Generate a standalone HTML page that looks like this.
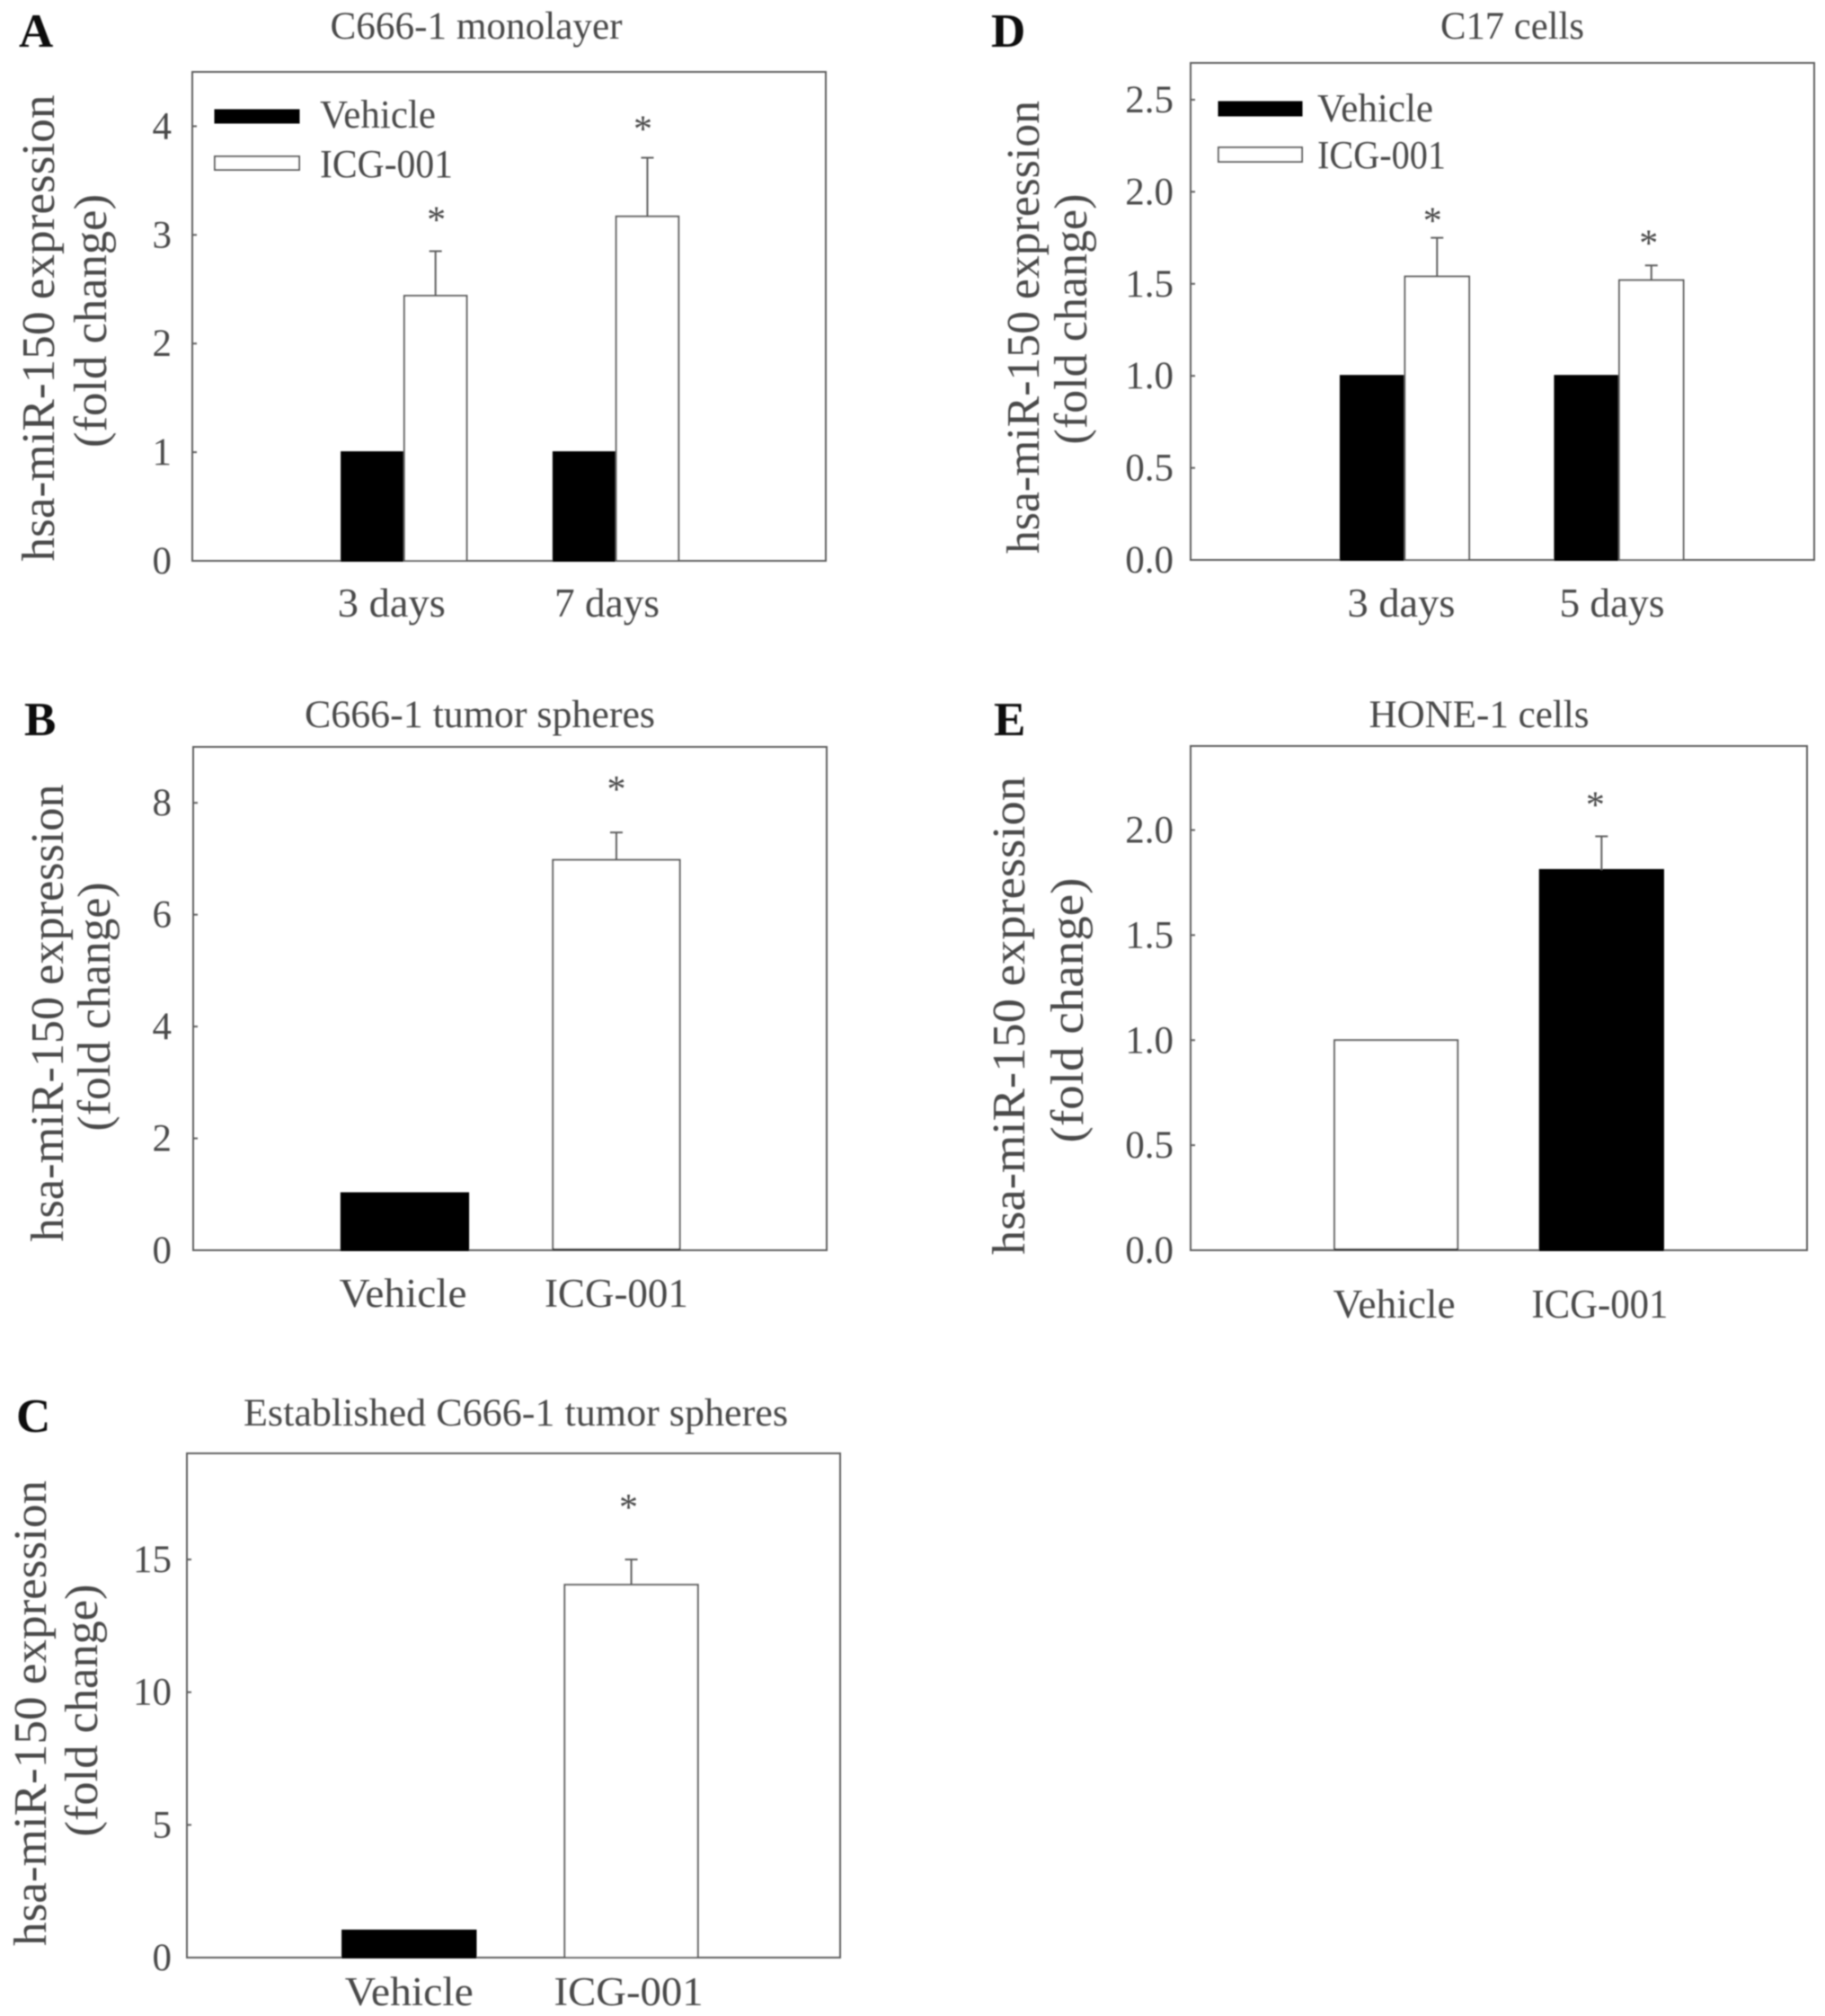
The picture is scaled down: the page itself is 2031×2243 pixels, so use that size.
<!DOCTYPE html>
<html lang="en">
<head>
<meta charset="utf-8">
<title>hsa-miR-150 expression after ICG-001 treatment</title>
<style>
html,body{margin:0;padding:0;background:#fff;}
svg{display:block;}
text{font-family:"Liberation Serif","Times New Roman",serif;fill:#484848;}
</style>
</head>
<body>
<svg id="figure" xmlns="http://www.w3.org/2000/svg" width="2031" height="2243" viewBox="0 0 2031 2243">
  <defs><filter id="soft" x="-5%" y="-5%" width="110%" height="110%"><feGaussianBlur stdDeviation="0.8"/></filter></defs>
  <g id="root" filter="url(#soft)"></g>
</svg>
<script>
// Panel A: C666-1 monolayer
const aCategories = ["3 days", "7 days"];
const aVehicle = [1, 1];
const aIcg = [2.44, 3.17];
const aIcgUpper = [2.85, 3.71];
const aTicks = [0, 1, 2, 3, 4];
// Panel B: C666-1 tumor spheres
const bCategories = ["Vehicle", "ICG-001"];
const bValues = [1.02, 6.98];
const bUpper = [null, 7.47];
const bTicks = [0, 2, 4, 6, 8];
// Panel C: Established C666-1 tumor spheres
const cCategories = ["Vehicle", "ICG-001"];
const cValues = [1.02, 14.05];
const cUpper = [null, 15.0];
const cTicks = [0, 5, 10, 15];
// Panel D: C17 cells
const dCategories = ["3 days", "5 days"];
const dVehicle = [1, 1];
const dIcg = [1.54, 1.52];
const dIcgUpper = [1.75, 1.6];
const dTicks = [0, 0.5, 1, 1.5, 2, 2.5];
// Panel E: HONE-1 cells
const eCategories = ["Vehicle", "ICG-001"];
const eValues = [1, 1.81];
const eUpper = [null, 1.97];
const eTicks = [0, 0.5, 1, 1.5, 2];

const INK = "#5e5e5e";
const root = document.getElementById("root");
const NS = "http://www.w3.org/2000/svg";

function make(parent, tag, props) {
  const node = document.createElementNS(NS, tag);
  for (const k in props) node.setAttribute(k, props[k]);
  parent.appendChild(node);
  return node;
}

function drawLabel(parent, name, content, x, y, size, len, opts) {
  const o = opts || {};
  const t = make(parent, "text", {x: x, y: y, "font-size": size, "text-anchor": o.anchor || "middle"});
  if (len) {
    t.setAttribute("textLength", len);
    t.setAttribute("lengthAdjust", "spacingAndGlyphs");
  }
  if (o.rotate) t.setAttribute("transform", "rotate(-90 " + x + " " + y + ")");
  if (o.bold) { t.setAttribute("font-weight", "bold"); t.style.fill = "#111"; }
  t.textContent = content;
  
  
  return t;
}

function drawPanel(cfg) {
  const g = make(root, "g", {});
  
  

  const yScale = function (v) { return cfg.bottom - (v / cfg.yMax) * (cfg.bottom - cfg.top); };
  const xScale = function (v) { return cfg.left + (v / cfg.xMax) * (cfg.right - cfg.left); };
  const unit = (cfg.right - cfg.left) / cfg.xMax;

  const frame = make(g, "rect", {x: cfg.left, y: cfg.top, width: cfg.right - cfg.left, height: cfg.bottom - cfg.top, fill: "none", stroke: INK, "stroke-width": 2});
  
  

  cfg.ticks.forEach(function (v) {
    const y = yScale(v);
    const tick = make(g, "line", {x1: cfg.left, x2: cfg.left + 5, y1: y, y2: y, stroke: INK, "stroke-width": 2});
    
    
    drawLabel(g, "y-tick-label", v.toFixed(cfg.decimals), cfg.tickRight, y + 14, 43, null, {anchor: "end"});
  });

  cfg.series.forEach(function (s) {
    s.values.forEach(function (v, i) {
      const center = xScale(i + 1) + s.offset * unit;
      const half = cfg.barWidth * unit / 2;
      const y = yScale(v);
      const fill = Array.isArray(s.fill) ? s.fill[i] : s.fill;
      const solid = fill === "#000";
      const bar = make(g, "rect", {x: center - half, y: y, width: half * 2, height: cfg.bottom - y, fill: fill, stroke: solid ? "#000" : INK, "stroke-width": 2});
      
      
      if (!solid && cfg.darkBase) {
        const base = make(g, "line", {x1: center - half, x2: center + half, y1: cfg.bottom - 1, y2: cfg.bottom - 1, stroke: "#222", "stroke-width": 2});
        
        
      }
      const upper = s.upper ? s.upper[i] : null;
      if (upper !== null) {
        const yu = yScale(upper);
        const stem = make(g, "line", {x1: center, x2: center, y1: y, y2: yu, stroke: INK, "stroke-width": 2});
        
        
        const cap = make(g, "line", {x1: center - 7, x2: center + 7, y1: yu, y2: yu, stroke: INK, "stroke-width": 2});
        
        
        const nudge = cfg.starNudge[i];
        drawLabel(g, "significance-star", "*", center - 4 + nudge[0], yu - 18 + nudge[1], 42);
      }
    });
  });

  cfg.categories.forEach(function (c, i) {
    drawLabel(g, "x-category-label", c, xScale(i + 1) + cfg.labelDx[i], cfg.labelY, 45, cfg.labelLens[i]);
  });

  drawLabel(g, "panel-title", cfg.title, cfg.titleX, cfg.titleY, 43, cfg.titleLen);
  drawLabel(g, "panel-letter", cfg.letter, cfg.letterX, cfg.letterY, 53, null, {anchor: "start", bold: true});
  drawLabel(g, "y-axis-title", "hsa-miR-150 expression", cfg.y1X, cfg.y1C, 52, cfg.y1Len, {rotate: true});
  drawLabel(g, "y-axis-subtitle", "(fold change)", cfg.y2X, cfg.y2C, 52, cfg.y2Len, {rotate: true});

  if (cfg.legend) {
    const L = cfg.legend;
    const leg = make(g, "g", {});
    
    
    const swatch1 = make(leg, "rect", {x: L.x, y: L.y1, width: L.w, height: L.h, fill: "#000", stroke: "#000", "stroke-width": 1});
    
    
    const swatch2 = make(leg, "rect", {x: L.x, y: L.y2, width: L.w, height: L.h, fill: "#fff", stroke: INK, "stroke-width": 2});
    
    
    drawLabel(leg, "legend-label-vehicle", "Vehicle", L.tx, L.t1, 44, L.len1, {anchor: "start"});
    drawLabel(leg, "legend-label-icg-001", "ICG-001", L.tx, L.t2, 44, L.len2, {anchor: "start"});
  }
}

drawPanel({
  id: "a", letter: "A", letterX: 21, letterY: 52,
  title: "C666-1 monolayer", titleX: 530, titleY: 43, titleLen: 325,
  left: 214, right: 919, top: 80, bottom: 624, yMax: 4.5, xMax: 2.99,
  ticks: aTicks, decimals: 0, tickRight: 191,
  categories: aCategories, labelDx: [-14, -10], labelY: 686, labelLens: [120, 117], barWidth: 0.295,
  starNudge: [[5, -3], [-1, 0]],
  series: [
    {name: "vehicle", values: aVehicle, fill: "#000", offset: -0.148},
    {name: "icg-001", values: aIcg, upper: aIcgUpper, fill: "#fff", offset: 0.148}
  ],
  y1X: 60, y1C: 365, y1Len: 519, y2X: 118, y2C: 357, y2Len: 282,
  legend: {x: 239, w: 94, h: 15, y1: 122, y2: 174, tx: 356, t1: 142, t2: 197, len1: 129, len2: 148}
});

drawPanel({
  id: "b", letter: "B", letterX: 27, letterY: 818,
  title: "C666-1 tumor spheres", titleX: 534, titleY: 809, titleLen: 390,
  left: 215, right: 920, top: 831, bottom: 1391, yMax: 9, xMax: 2.994,
  darkBase: true,
  ticks: bTicks, decimals: 0, tickRight: 191,
  categories: bCategories, labelDx: [-2, 0], labelY: 1454, labelLens: [142, 160], barWidth: 0.6,
  starNudge: [[0, 0], [4, -16]],
  series: [{name: "main", values: bValues, upper: bUpper, fill: ["#000", "#fff"], offset: 0}],
  y1X: 70, y1C: 1127, y1Len: 509, y2X: 122, y2C: 1120, y2Len: 277
});

drawPanel({
  id: "c", letter: "C", letterX: 18, letterY: 1593,
  title: "Established C666-1 tumor spheres", titleX: 574, titleY: 1586, titleLen: 606,
  left: 208, right: 935, top: 1617, bottom: 2178, yMax: 19, xMax: 2.94,
  ticks: cTicks, decimals: 0, tickRight: 191,
  categories: cCategories, labelDx: [0, -3], labelY: 2231, labelLens: [143, 166], barWidth: 0.6,
  starNudge: [[0, 0], [1, -26]],
  series: [{name: "main", values: cValues, upper: cUpper, fill: ["#000", "#fff"], offset: 0}],
  y1X: 51, y1C: 1906, y1Len: 518, y2X: 108, y2C: 1903, y2Len: 281
});

drawPanel({
  id: "d", letter: "D", letterX: 1103, letterY: 52,
  title: "C17 cells", titleX: 1683, titleY: 43, titleLen: 160,
  left: 1325, right: 2019, top: 70, bottom: 623, yMax: 2.7, xMax: 2.91,
  ticks: dTicks, decimals: 1, tickRight: 1306,
  categories: dCategories, labelDx: [-4, -8], labelY: 686, labelLens: [120, 117], barWidth: 0.3,
  starNudge: [[-1, 13], [1, 7]],
  series: [
    {name: "vehicle", values: dVehicle, fill: "#000", offset: -0.15},
    {name: "icg-001", values: dIcg, upper: dIcgUpper, fill: "#fff", offset: 0.15}
  ],
  y1X: 1156, y1C: 364, y1Len: 504, y2X: 1209, y2C: 355, y2Len: 279,
  legend: {x: 1356, w: 93, h: 16, y1: 113, y2: 164, tx: 1466, t1: 135, t2: 187, len1: 129, len2: 143}
});

drawPanel({
  id: "e", letter: "E", letterX: 1106, letterY: 818,
  title: "HONE-1 cells", titleX: 1646, titleY: 809, titleLen: 245,
  left: 1325, right: 2011, top: 830, bottom: 1391, yMax: 2.4, xMax: 3.0,
  darkBase: true,
  ticks: eTicks, decimals: 1, tickRight: 1306,
  categories: eCategories, labelDx: [-2, -2], labelY: 1466, labelLens: [136, 152], barWidth: 0.6,
  starNudge: [[0, 0], [-3, -3]],
  series: [{name: "main", values: eValues, upper: eUpper, fill: ["#fff", "#000"], offset: 0}],
  y1X: 1140, y1C: 1130, y1Len: 532, y2X: 1205, y2C: 1124, y2Len: 295
});
</script>
</body>
</html>
